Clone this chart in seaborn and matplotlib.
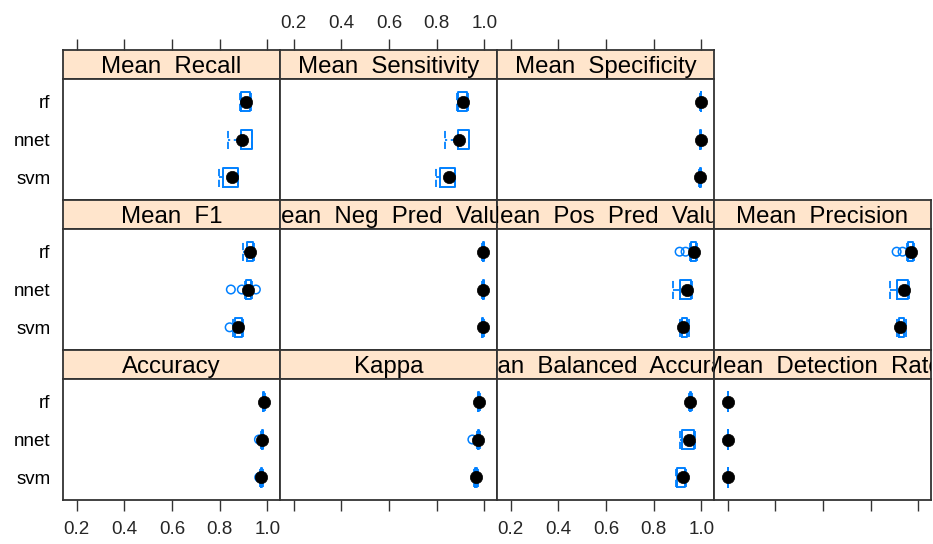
import matplotlib
matplotlib.use("Agg")
import matplotlib.pyplot as plt
import seaborn as sns
import pandas as pd

sns.set_style("white")
plt.rcParams['font.family'] = ['Liberation Sans', 'DejaVu Sans']

models = ["rf", "nnet", "svm"]
metrics = ["Accuracy", "Kappa", "Mean Balanced Accuracy", "Mean Detection Rate",
           "Mean F1", "Mean Neg Pred Value", "Mean Pos Pred Value", "Mean Precision",
           "Mean Recall", "Mean Sensitivity", "Mean Specificity"]
# five-number summaries: rows follow metrics, columns follow models (rf, nnet, svm)
whisk_lo = [[0.982, 0.974, 0.971], [0.972, 0.968, 0.958], [0.948, 0.912, 0.893], [0.200, 0.200, 0.200],
            [0.897, 0.905, 0.857], [0.992, 0.990, 0.989], [0.952, 0.881, 0.912], [0.952, 0.881, 0.912],
            [0.884, 0.834, 0.799], [0.884, 0.834, 0.799], [0.995, 0.993, 0.991]]
q1 = [[0.984, 0.976, 0.973], [0.975, 0.972, 0.961], [0.951, 0.918, 0.897], [0.200, 0.200, 0.200],
      [0.914, 0.910, 0.866], [0.994, 0.993, 0.992], [0.958, 0.912, 0.918], [0.958, 0.912, 0.918],
      [0.888, 0.889, 0.812], [0.888, 0.889, 0.812], [0.997, 0.995, 0.993]]
median = [[0.986, 0.978, 0.975], [0.977, 0.975, 0.964], [0.954, 0.947, 0.924], [0.200, 0.200, 0.200],
          [0.928, 0.917, 0.877], [0.996, 0.995, 0.994], [0.968, 0.940, 0.925], [0.968, 0.940, 0.925],
          [0.909, 0.893, 0.850], [0.909, 0.893, 0.850], [0.998, 0.997, 0.995]]
q3 = [[0.988, 0.980, 0.978], [0.979, 0.978, 0.968], [0.958, 0.970, 0.932], [0.200, 0.200, 0.200],
      [0.940, 0.930, 0.892], [0.997, 0.997, 0.996], [0.976, 0.957, 0.942], [0.976, 0.957, 0.942],
      [0.928, 0.935, 0.875], [0.928, 0.935, 0.875], [0.999, 0.998, 0.997]]
whisk_hi = [[0.991, 0.983, 0.981], [0.982, 0.980, 0.972], [0.962, 0.972, 0.934], [0.200, 0.200, 0.200],
            [0.944, 0.936, 0.900], [0.998, 0.998, 0.997], [0.982, 0.962, 0.948], [0.982, 0.962, 0.948],
            [0.931, 0.937, 0.878], [0.931, 0.937, 0.878], [1.000, 0.999, 0.998]]
outlier_metric = ["Accuracy", "Accuracy", "Kappa", "Mean F1", "Mean F1", "Mean F1", "Mean F1",
                  "Mean Pos Pred Value", "Mean Pos Pred Value", "Mean Precision", "Mean Precision"]
outlier_model = ["nnet", "svm", "nnet", "nnet", "nnet", "nnet", "svm", "rf", "rf", "rf", "rf"]
outlier_value = [0.965, 0.966, 0.950, 0.847, 0.893, 0.952, 0.842, 0.909, 0.934, 0.909, 0.934]
x_ticks = [0.2, 0.4, 0.6, 0.8, 1.0]
x_ticklabels = ["0.2", "0.4", "0.6", "0.8", "1.0"]

# panel layout (lattice order): rows top -> bottom
layout = [["Mean Recall", "Mean Sensitivity", "Mean Specificity", None],
          ["Mean F1", "Mean Neg Pred Value", "Mean Pos Pred Value", "Mean Precision"],
          ["Accuracy", "Kappa", "Mean Balanced Accuracy", "Mean Detection Rate"]]

W, H = 933, 544
BLUE = "#0080ff"
EDGE = "#333333"
XLIM = (0.1425, 1.0533)
ypos = {"rf": 3, "nnet": 2, "svm": 1}

fig = plt.figure(figsize=(W / 100, H / 100), dpi=100)

col_left = [63, 280, 497, 714]
col_w = 217
row_top = [50, 200, 350]
strip_h = 29
panel_h = 121


def fr(x, y, w, h):
    return [x / W, 1 - (y + h) / H, w / W, h / H]


out_df = pd.DataFrame({"metric": outlier_metric, "model": outlier_model, "value": outlier_value})

for r, row in enumerate(layout):
    for c, metric in enumerate(row):
        if metric is None:
            continue
        mi = metrics.index(metric)
        x0 = col_left[c]
        y0 = row_top[r]
        # strip
        sax = fig.add_axes(fr(x0, y0, col_w, strip_h))
        sax.set_facecolor("#ffe5cc")
        sax.set_xlim(*XLIM)
        sax.set_ylim(0, 1)
        sax.set_yticks([])
        label = metric.replace(" ", "  ")
        sax.text(0.5, 0.40, label, transform=sax.transAxes, ha="center", va="center",
                 fontsize=17.3, color="black", clip_on=True)
        for sp in sax.spines.values():
            sp.set_color(EDGE)
            sp.set_linewidth(1.3)
        if r == 0:
            sax.xaxis.set_ticks_position("top")
            sax.set_xticks(x_ticks)
            sax.tick_params(axis="x", direction="out", length=8, width=1, color=EDGE,
                            labelsize=13.5, pad=5, top=True, bottom=False,
                            labeltop=(c == 1), labelbottom=False)
            sax.set_xticklabels(x_ticklabels)
        else:
            sax.set_xticks([])

        # panel
        ax = fig.add_axes(fr(x0, y0 + strip_h, col_w, panel_h))
        ax.set_facecolor("white")
        stats = []
        for k, m in enumerate(models):
            stats.append(dict(med=median[mi][k], q1=q1[mi][k], q3=q3[mi][k],
                              whislo=whisk_lo[mi][k], whishi=whisk_hi[mi][k], fliers=[]))
        kw = dict(positions=[ypos[m] for m in models], widths=0.5, capwidths=0.5,
                  showfliers=False, manage_ticks=False, patch_artist=False,
                  boxprops=dict(color=BLUE, linewidth=1.4),
                  whiskerprops=dict(color=BLUE, linewidth=1.3, linestyle=(0, (4, 2))),
                  capprops=dict(color=BLUE, linewidth=1.3, linestyle=(0, (4, 2))),
                  medianprops=dict(linewidth=0))
        try:
            ax.bxp(stats, orientation="horizontal", **kw)
        except TypeError:
            ax.bxp(stats, vert=False, **kw)

        sub = out_df[out_df["metric"] == metric]
        if len(sub):
            sns.scatterplot(x=sub["value"], y=sub["model"].map(ypos), ax=ax, s=38,
                            marker="o", facecolor="none", edgecolor=BLUE, linewidth=1.1,
                            zorder=4)
        med_df = pd.DataFrame({"value": median[mi], "pos": [ypos[m] for m in models]})
        sns.scatterplot(data=med_df, x="value", y="pos", ax=ax, s=78, color="black",
                        edgecolor="black", linewidth=0.5, zorder=5)

        ax.set_xlim(*XLIM)
        ax.set_ylim(0.4, 3.6)
        ax.set_xlabel("")
        ax.set_ylabel("")
        ax.set_yticks([ypos[m] for m in models])
        if c == 0:
            ax.set_yticklabels(models)
            ax.tick_params(axis="y", length=0, pad=9, labelsize=13.5, labelcolor="black")
        else:
            ax.set_yticklabels([])
            ax.tick_params(axis="y", length=0)
        if r == 2:
            ax.set_xticks(x_ticks)
            ax.set_xticklabels(x_ticklabels)
            ax.tick_params(axis="x", direction="out", length=8, width=1, color=EDGE,
                           labelsize=13.5, pad=7, bottom=True,
                           labelbottom=(c in (0, 2)))
        else:
            ax.set_xticks([])
        for sp in ax.spines.values():
            sp.set_color(EDGE)
            sp.set_linewidth(1.3)
        if ax.get_legend() is not None:
            ax.get_legend().remove()

fig.savefig("out.png", dpi=100)
